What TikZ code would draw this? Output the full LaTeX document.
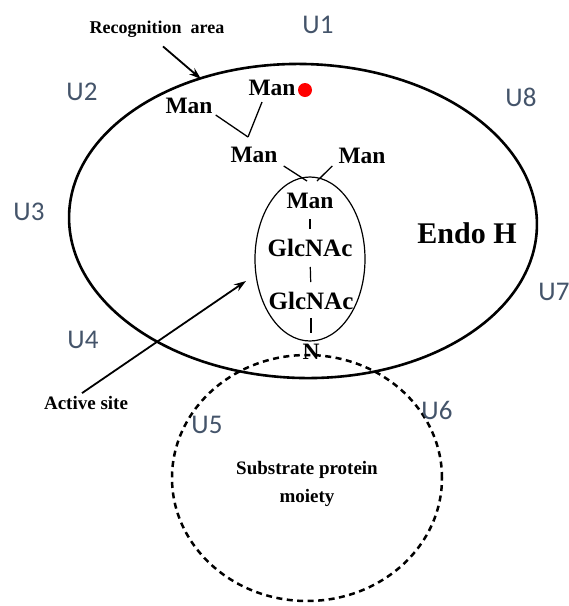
\documentclass[tikz,border=0pt]{standalone}
\usepackage{fontspec}
\setmainfont{Liberation Serif}
\newfontfamily\ufont{Carlito}
\usepackage{tikz}
\usetikzlibrary{arrows.meta}

\definecolor{ublue}{HTML}{44546A}
\tikzset{
    sugar/.style={font=\fontsize{23.5}{25}\selectfont\bfseries, inner sep=0pt},
    glyc/.style={font=\fontsize{25}{27}\selectfont\bfseries, inner sep=0pt},
    note/.style={font=\fontsize{19}{28}\selectfont\bfseries, inner sep=0pt, align=center},
    ulabel/.style={font=\ufont\fontsize{27}{29}\selectfont, text=ublue, inner sep=0pt},
    bond/.style={line width=1.3pt},
    seg/.style={line width=1.2pt, shorten <=10pt, shorten >=10pt},
    pointer/.style={-{Stealth[length=12pt,width=8pt]}, line width=1.8pt}
}

\begin{document}
\begin{tikzpicture}[x=1pt,y=-1pt]
    \useasboundingbox (0,0) rectangle (569,606);

    % enzyme and substrate outlines
    \draw [line width=2.6pt, rotate around={-1.5:(303,221)}] (303,221) ellipse [x radius=234pt, y radius=157pt];
    \draw [line width=1.2pt] (310,259) ellipse [x radius=55pt, y radius=82pt];
    \draw [line width=2.5pt, dash pattern=on 6pt off 4.5pt] (307,478) ellipse [x radius=135pt, y radius=123pt];

    % oligosaccharide chain
    \node[sugar] (manT) at (272,88) {Man};
    \fill [red] (305,90) circle [radius=7pt];
    \node[sugar] (manL) at (189,106) {Man};
    \node[sugar] (manM) at (254,155) {Man};
    \node[sugar] (manR) at (362,156) {Man};
    \node[sugar] (manI) at (310,201) {Man};
    \node[glyc] (glc1) at (310,248) {GlcNAc};
    \node[glyc] (glc2) at (311,301) {GlcNAc};
    \node[sugar] (asn) at (311,352) {N};

    \coordinate (j1) at (248,137);
    \coordinate (j2) at (307,181);
    \coordinate (j3) at (317,181);
    \draw [bond] ([xshift=3pt,yshift=-1pt]manL.south east) -- (j1);
    \draw [bond] ([xshift=-10pt,yshift=-6pt]manT.south) -- (j1);
    \draw [bond] ([xshift=6pt,yshift=-3pt]manM.south east) -- (j2);
    \draw [bond] ([xshift=-6pt,yshift=-2pt]manR.south west) -- (j3);
    \draw [seg] (manI.south) -- (glc1.north);
    \draw [seg] (glc1.south) -- (glc2.north);
    \draw [seg, shorten <=8pt, shorten >=11pt] (glc2.south) -- (asn.north);

    \node[font=\fontsize{30}{32}\selectfont\bfseries, inner sep=0pt] (endo) at (467,233) {Endo H};

    % pointers
    \node[note, font=\fontsize{18}{28}\selectfont\bfseries] (recog) at (157,29) {Recognition\ \ area};
    \coordinate (recogtip) at (201,79);
    \draw [pointer] ([xshift=6pt,yshift=-9pt]recog.south) -- (recogtip);

    \node[note] (active) at (86,403) {Active site};
    \coordinate (activetip) at (246,281);
    \draw [pointer] ([xshift=-4pt,yshift=3pt]active.north) -- (activetip);

    \node[note] (substr) at (307,484) {Substrate protein\\moiety};

    % U labels
    \node[ulabel] (u1) at (318,25) {U1};
    \node[ulabel] (u2) at (82,92) {U2};
    \node[ulabel] (u3) at (29,212) {U3};
    \node[ulabel] (u4) at (83,340) {U4};
    \node[ulabel] (u5) at (207,425) {U5};
    \node[ulabel] (u6) at (437,410) {U6};
    \node[ulabel] (u7) at (554,292) {U7};
    \node[ulabel] (u8) at (521,97) {U8};
\end{tikzpicture}
\end{document}
